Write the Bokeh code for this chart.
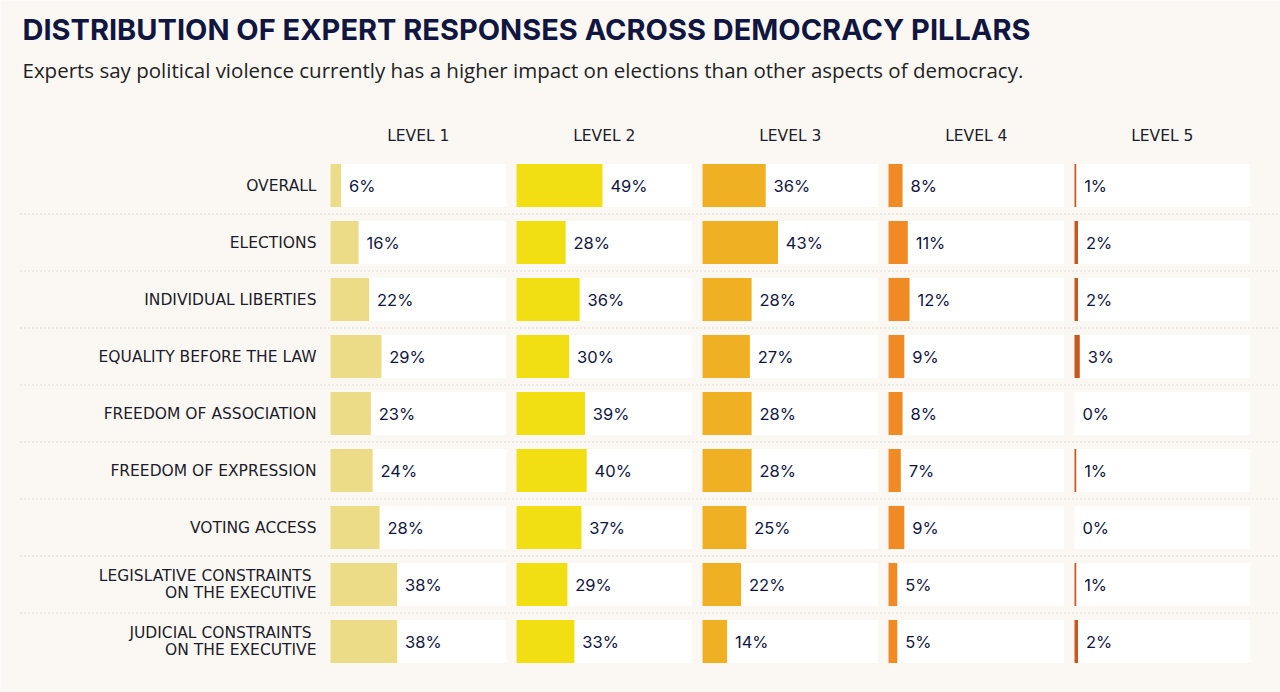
from bokeh.plotting import figure
from bokeh.models import ColumnDataSource, Range1d
from bokeh.core.properties import value
from bokeh.embed import file_html
from bokeh.resources import INLINE

# ---------------- data ----------------
title = "DISTRIBUTION OF EXPERT RESPONSES ACROSS DEMOCRACY PILLARS"
subtitle = "Experts say political violence currently has a higher impact on elections than other aspects of democracy."
pillars = [
    "OVERALL",
    "ELECTIONS",
    "INDIVIDUAL LIBERTIES",
    "EQUALITY BEFORE THE LAW",
    "FREEDOM OF ASSOCIATION",
    "FREEDOM OF EXPRESSION",
    "VOTING ACCESS",
    "LEGISLATIVE CONSTRAINTS \nON THE EXECUTIVE",
    "JUDICIAL CONSTRAINTS \nON THE EXECUTIVE",
]
levels = ["LEVEL 1", "LEVEL 2", "LEVEL 3", "LEVEL 4", "LEVEL 5"]
level1 = [6, 16, 22, 29, 23, 24, 28, 38, 38]
level2 = [49, 28, 36, 30, 39, 40, 37, 29, 33]
level3 = [36, 43, 28, 27, 28, 28, 25, 22, 14]
level4 = [8, 11, 12, 9, 8, 7, 9, 5, 5]
level5 = [1, 2, 2, 3, 0, 1, 0, 1, 2]
series = [level1, level2, level3, level4, level5]
colors = ["#ecdc87", "#f1df14", "#f0b024", "#f08a25", "#c9561d"]

# ---------------- layout constants ----------------
W, H = 1280, 692
PX_PER_UNIT = 1.755          # pixels per percentage point
COL0_PX = 330                # left edge of first panel
COL_STEP = 186 / PX_PER_UNIT # column spacing in data units
ROW0_PX, ROW_STEP_PX = 185, 57
BAR_H = 43 / 57

BG = "#fbf8f4"
NAVY = "#10163f"
TXT = "#1c1c2a"

xs = -COL0_PX / PX_PER_UNIT
x_range = Range1d(xs, xs + W / PX_PER_UNIT)
y_range = Range1d((H - ROW0_PX) / ROW_STEP_PX, -ROW0_PX / ROW_STEP_PX)

def px_y(py):
    return (py - ROW0_PX) / ROW_STEP_PX

def px_x(px):
    return (px - COL0_PX) / PX_PER_UNIT

p = figure(width=W, height=H, x_range=x_range, y_range=y_range,
           output_backend="svg", toolbar_location=None,
           min_border=0, background_fill_color=BG, border_fill_color=BG,
           outline_line_color=None)
p.axis.visible = False
p.grid.visible = False

rows = list(range(len(pillars)))

# dotted separators between rows
sep_y = [r + 0.5 for r in rows[:-1]]
p.segment(x0=[px_x(20)] * len(sep_y), x1=[px_x(1280)] * len(sep_y), y0=sep_y, y1=sep_y,
          line_color="#d8cfc3", line_width=1.5, line_dash="1 3")

for c, (vals, col) in enumerate(zip(series, colors)):
    off = c * COL_STEP
    src = ColumnDataSource(dict(
        y=rows,
        left=[off] * len(rows),
        right=[off + v for v in vals],
        panel_right=[off + 100] * len(rows),
        tx=[off + v + 4.5 for v in vals],
        label=[f"{v}%" for v in vals],
    ))
    # white panel
    p.hbar(y="y", left="left", right="panel_right", height=BAR_H, source=src,
           fill_color="white", line_color=None)
    # bar
    p.hbar(y="y", left="left", right="right", height=BAR_H, source=src,
           fill_color=col, line_color=None)
    # value label
    p.text(x="tx", y="y", text="label", source=src, text_font=value("Inter"),
           text_font_size="16.5px", text_color=NAVY, text_baseline="middle",
           text_align="left")
    # column header
    p.text(x=[off + 50], y=[px_y(135)], text=[levels[c]], text_font=value("DejaVu Sans"),
           text_font_size="15.5px", text_color=TXT,
           text_baseline="middle", text_align="center")

# row labels
p.text(x=[px_x(316)] * len(rows), y=rows, text=pillars, text_font=value("DejaVu Sans"),
       text_font_size="15.5px", text_color=TXT, text_baseline="middle", text_align="right",
       text_line_height=0.9)

# title & subtitle
p.text(x=[px_x(22)], y=[px_y(29)], text=[title], text_font=value("Inter"),
       text_font_size="29px", text_font_style="bold", text_color=NAVY,
       text_baseline="middle", text_align="left")
p.text(x=[px_x(22)], y=[px_y(69)], text=[subtitle], text_font=value("Open Sans"),
       text_font_size="20.5px", text_color="#222222",
       text_baseline="middle", text_align="left")

open("out.html", "w").write(file_html(p, INLINE))
